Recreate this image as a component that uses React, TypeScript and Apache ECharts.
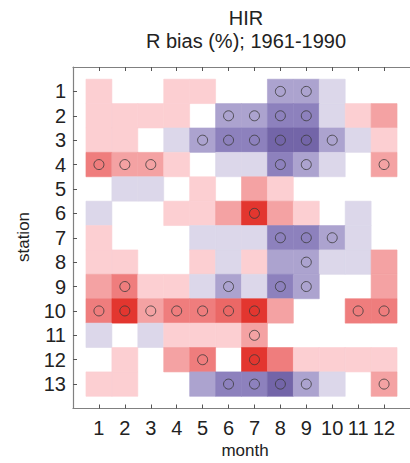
import React, { useEffect, useRef } from "react";
import * as echarts from "echarts";

// Months along x, stations along y
const months = [1, 2, 3, 4, 5, 6, 7, 8, 9, 10, 11, 12];
const stations = [1, 2, 3, 4, 5, 6, 7, 8, 9, 10, 11, 12, 13];

// Relative bias (%) per station (rows) and month (columns)
const station1 = [5, 0, 0, 5, 5, 0, 0, -15, -15, -5, 0, 0];
const station2 = [5, 5, 5, 5, 0, -15, -15, -25, -25, -5, 5, 15];
const station3 = [5, 5, 0, -5, -15, -25, -25, -35, -35, -15, -5, 5];
const station4 = [25, 15, 15, 5, 0, -5, -5, -25, -15, -5, 0, 15];
const station5 = [0, -5, -5, 0, 5, 0, 15, 5, 0, 0, 0, 0];
const station6 = [-5, 0, 0, 5, 5, 15, 35, 15, 5, 0, -5, 0];
const station7 = [5, 0, 0, 0, -5, -5, -5, -25, -25, -15, -5, 0];
const station8 = [5, 5, 0, 0, 5, -5, 5, -15, -15, -5, -5, 15];
const station9 = [15, 25, 5, 5, -5, -15, -5, -25, -15, 0, 0, 15];
const station10 = [25, 35, 15, 25, 25, 28, 35, 15, 0, 0, 25, 25];
const station11 = [-5, 0, -5, 5, 5, 5, 15, 0, 0, 0, 0, 0];
const station12 = [0, 5, 0, 15, 25, 0, 35, 25, 5, 5, 5, 5];
const station13 = [5, 5, 0, 0, -15, -25, -25, -35, -15, -5, 0, 15];

const biasByStation = [
  station1, station2, station3, station4, station5, station6, station7,
  station8, station9, station10, station11, station12, station13,
];

// Cells marked as significant: [station, month]
const significantCells: [number, number][] = [
  [1, 8], [1, 9],
  [2, 6], [2, 7], [2, 8], [2, 9],
  [3, 5], [3, 6], [3, 7], [3, 8], [3, 9], [3, 10],
  [4, 1], [4, 2], [4, 3], [4, 8], [4, 9], [4, 12],
  [6, 7],
  [7, 8], [7, 9], [7, 10],
  [8, 9],
  [9, 2], [9, 6], [9, 8], [9, 9],
  [10, 1], [10, 2], [10, 3], [10, 4], [10, 5], [10, 6], [10, 7], [10, 11], [10, 12],
  [11, 7],
  [12, 5], [12, 7],
  [13, 6], [13, 7], [13, 8], [13, 9], [13, 12],
];

// Diverging colour scale: blue/purple for negative bias, red for positive
const colorStops: [number, string][] = [
  [-35, "#7365a8"],
  [-25, "#8d81bd"],
  [-15, "#aca3cf"],
  [-5, "#dcd7ea"],
  [0, "#ffffff"],
  [5, "#fccfd2"],
  [15, "#f4a2a3"],
  [25, "#ef7d7d"],
  [35, "#e3362f"],
];

function hexToRgb(h: string) {
  const n = parseInt(h.slice(1), 16);
  return [(n >> 16) & 255, (n >> 8) & 255, n & 255];
}

function colorFor(v: number): string {
  if (v <= colorStops[0][0]) return colorStops[0][1];
  const last = colorStops[colorStops.length - 1];
  if (v >= last[0]) return last[1];
  for (let i = 0; i < colorStops.length - 1; i++) {
    const [a, ca] = colorStops[i];
    const [b, cb] = colorStops[i + 1];
    if (v >= a && v <= b) {
      const t = (v - a) / (b - a);
      const ra = hexToRgb(ca);
      const rb = hexToRgb(cb);
      const c = ra.map((x, k) => Math.round(x + (rb[k] - x) * t));
      return `rgb(${c[0]},${c[1]},${c[2]})`;
    }
  }
  return "#ffffff";
}

const FONT = "'Liberation Sans', Arial, Helvetica, sans-serif";
const TEXT = "#222222";
const AXIS = "#808080";

export default function App() {
  const ref = useRef<HTMLDivElement>(null);

  useEffect(() => {
    if (!ref.current) return;
    const chart = echarts.init(ref.current, null, { renderer: "svg" });

    const cells: number[][] = [];
    biasByStation.forEach((row, si) => {
      row.forEach((v, mi) => {
        cells.push([months[mi], stations[si], v]);
      });
    });
    const marks = significantCells.map(([s, m]) => [m, s]);

    const gridLeft = 73;
    const gridTop = 67;
    const gridWidth = 347;
    const gridHeight = 341.5;

    const tickCommon = {
      inside: true,
      length: 4,
      lineStyle: { color: "#555555", width: 1 },
    };

    chart.setOption({
      animation: false,
      backgroundColor: "#ffffff",
      grid: {
        left: gridLeft,
        top: gridTop,
        width: gridWidth,
        height: gridHeight,
        containLabel: false,
      },
      xAxis: [
        {
          type: "value",
          position: "bottom",
          min: 0,
          max: 13,
          interval: 1,
          axisLine: { show: true, onZero: false, lineStyle: { color: AXIS, width: 1.2 } },
          axisTick: { ...tickCommon, customValues: months },
          axisLabel: {
            customValues: months,
            color: TEXT,
            fontSize: 20,
            fontFamily: FONT,
            margin: 9,
          },
          splitLine: { show: false },
        },
        {
          type: "value",
          position: "top",
          min: 0,
          max: 13,
          interval: 1,
          axisLine: { show: true, onZero: false, lineStyle: { color: AXIS, width: 1.2 } },
          axisTick: { ...tickCommon, customValues: months },
          axisLabel: { show: false },
          splitLine: { show: false },
        },
      ],
      yAxis: {
        type: "value",
        inverse: true,
        min: 0,
        max: 14,
        interval: 1,
        axisLine: { show: true, onZero: false, lineStyle: { color: AXIS, width: 1.2 } },
        axisTick: { ...tickCommon, customValues: stations },
        axisLabel: {
          customValues: stations,
          color: TEXT,
          fontSize: 20,
          fontFamily: FONT,
          margin: 7,
        },
        splitLine: { show: false },
      },
      graphic: [
        {
          type: "text",
          x: 246,
          y: 18,
          style: {
            text: "HIR",
            fill: TEXT,
            font: `20px ${FONT}`,
            textAlign: "center",
            textVerticalAlign: "middle",
          },
        },
        {
          type: "text",
          x: 246,
          y: 41,
          style: {
            text: "R bias (%); 1961-1990",
            fill: TEXT,
            font: `20px ${FONT}`,
            textAlign: "center",
            textVerticalAlign: "middle",
          },
        },
        {
          type: "text",
          x: 245,
          y: 450,
          style: {
            text: "month",
            fill: TEXT,
            font: `17px ${FONT}`,
            textAlign: "center",
            textVerticalAlign: "middle",
          },
        },
        {
          type: "text",
          x: 23,
          y: 237,
          rotation: Math.PI / 2,
          style: {
            text: "station",
            fill: TEXT,
            font: `17px ${FONT}`,
            textAlign: "center",
            textVerticalAlign: "middle",
          },
        },
      ],
      series: [
        {
          type: "custom",
          xAxisIndex: 0,
          yAxisIndex: 0,
          data: cells,
          renderItem: (params: any, api: any) => {
            const m = api.value(0);
            const s = api.value(1);
            const v = api.value(2);
            if (v === 0) return null;
            const p0 = api.coord([m - 0.5, s - 0.5]);
            const p1 = api.coord([m + 0.5, s + 0.5]);
            const fill = colorFor(v);
            return {
              type: "rect",
              shape: {
                x: Math.min(p0[0], p1[0]),
                y: Math.min(p0[1], p1[1]),
                width: Math.abs(p1[0] - p0[0]),
                height: Math.abs(p1[1] - p0[1]),
              },
              style: { fill, stroke: fill, lineWidth: 0.6 },
            };
          },
          z: 1,
        },
        {
          type: "scatter",
          xAxisIndex: 0,
          yAxisIndex: 0,
          data: marks,
          symbol: "circle",
          symbolSize: 10,
          itemStyle: {
            color: "rgba(0,0,0,0)",
            borderColor: "#3a3a3a",
            borderWidth: 1,
          },
          z: 3,
        },
      ],
    });

    return () => chart.dispose();
  }, []);

  return (
    <div
      ref={ref}
      style={{ position: "fixed", left: 0, top: 0, width: 410, height: 463 }}
    />
  );
}
